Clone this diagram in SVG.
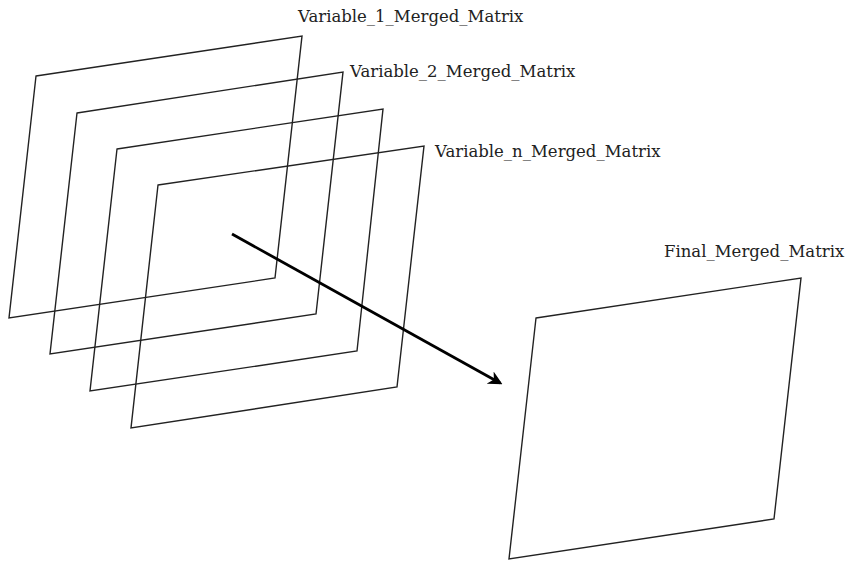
<svg xmlns="http://www.w3.org/2000/svg" width="846" height="563" viewBox="0 0 846 563">
<style>
.frame{fill:none;stroke:#222;stroke-width:1.4;stroke-linejoin:miter}
.lbl{font-family:"DejaVu Serif","Liberation Serif",serif;font-size:16.5px;fill:#222}
.arrow{fill:none;stroke:#000;stroke-width:2.8}
</style>
<defs>
<marker id="ah" viewBox="0 0 10 10" refX="8" refY="5" markerWidth="5" markerHeight="5" orient="auto" markerUnits="strokeWidth">
<path d="M0,0 L10,5 L0,10 L3,5 Z" fill="#000"/>
</marker>
</defs>
<rect width="846" height="563" fill="#fff"/>
<g id="var1">
<polygon class="frame" points="36,76 302,36 275,278 9,318"/>
<text class="lbl" x="298" y="22">Variable_1_Merged_Matrix</text>
</g>
<g id="var2">
<polygon class="frame" points="77,113 343,72 316,314 50,354"/>
<text class="lbl" x="350" y="77">Variable_2_Merged_Matrix</text>
</g>
<g id="var3">
<polygon class="frame" points="117,149 383,109 357,351 90,391"/>
</g>
<g id="varn">
<polygon class="frame" points="158,185 424,146 397,387 131,428"/>
<text class="lbl" x="435" y="157">Variable_n_Merged_Matrix</text>
</g>
<g id="final">
<polygon class="frame" points="536,318 801,278 774,519 509,559"/>
<text class="lbl" x="664" y="257">Final_Merged_Matrix</text>
</g>
<g id="connectors">
<line class="arrow" x1="232" y1="234" x2="500" y2="383" marker-end="url(#ah)"/>
</g>
</svg>
